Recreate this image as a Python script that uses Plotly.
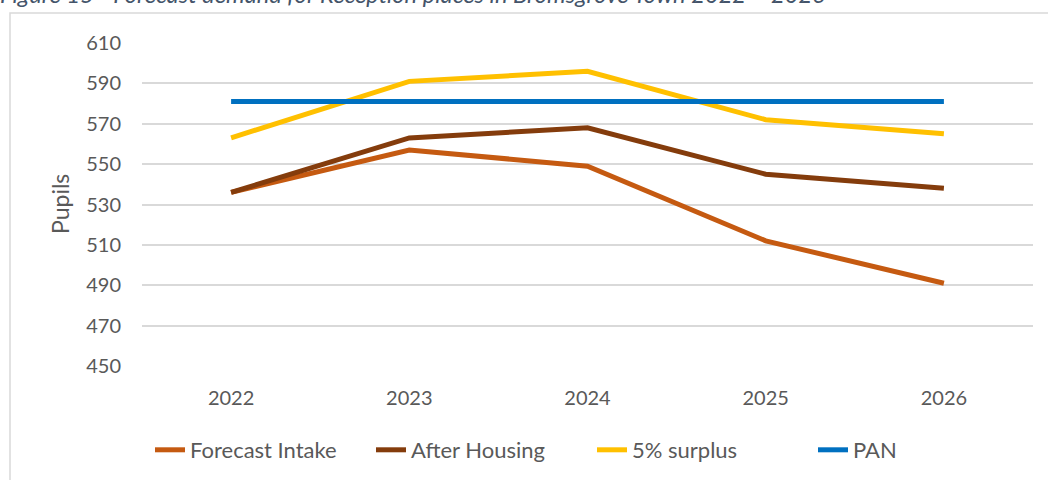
import plotly.graph_objects as go

years = ["2022", "2023", "2024", "2025", "2026"]
forecast_intake = [536, 557, 549, 512, 491]
after_housing = [536, 563, 568, 545, 538]
surplus_5pct = [563, 591, 596, 572, 565]
pan = [581, 581, 581, 581, 581]
y_ticks = [450, 470, 490, 510, 530, 550, 570, 590, 610]

series = [
    ("Forecast Intake", forecast_intake, "#C55A11"),
    ("After Housing", after_housing, "#843C0C"),
    ("5% surplus", surplus_5pct, "#FFC000"),
    ("PAN", pan, "#0070C0"),
]

FONT = "Lato"
TXT = "#595959"

fig = go.Figure()
for name, vals, col in series:
    fig.add_trace(go.Scatter(
        x=years, y=vals, name=name, mode="lines",
        line=dict(color=col, width=5),
    ))

W, H = 1048, 480
L = 142
T = 43
R = W - 1033
B = H - 366
pw, ph = W - L - R, H - T - B

def px2x(px):
    return (px - L) / pw

def px2y(py):
    return (H - B - py) / ph

fig.update_layout(
    width=W, height=H,
    margin=dict(l=L, r=R, t=T, b=B, autoexpand=False),
    paper_bgcolor="white", plot_bgcolor="white",
    font=dict(family=FONT, color=TXT, size=20),
    showlegend=True,
    legend=dict(orientation="h", x=px2x(150), xanchor="left",
                y=px2y(450), yanchor="middle",
                font=dict(size=22, color=TXT), itemwidth=30,
                entrywidth=176, entrywidthmode="pixels",
                tracegroupgap=0),
    xaxis=dict(type="category", range=[-0.5, 4.5], showgrid=False,
               showline=False, zeroline=False, ticks="", automargin=False,
               ticklabelstandoff=18, tickfont=dict(size=20, color=TXT)),
    yaxis=dict(range=[450, 610], tickvals=y_ticks, showgrid=True,
               gridcolor="#D9D9D9", gridwidth=2, zeroline=False,
               showline=False, ticks="", ticklabelstandoff=20, automargin=False,
               tickfont=dict(size=20, color=TXT)),
    shapes=[dict(type="rect", xref="paper", yref="paper",
                 x0=px2x(10), x1=px2x(1100), y0=px2y(520), y1=px2y(13),
                 line=dict(color="#D9D9D9", width=1.5), fillcolor="rgba(0,0,0,0)",
                 layer="below")],
    annotations=[
        dict(text="Pupils", xref="paper", yref="paper", x=px2x(60), y=px2y(204),
             xanchor="center", yanchor="middle", textangle=-90, showarrow=False,
             font=dict(size=23, color=TXT)),
        dict(text="<i>Figure 15 - Forecast demand for Reception places in Bromsgrove Town 2022 – 2026</i>",
             xref="paper", yref="paper", x=px2x(-2), y=px2y(10), xanchor="left",
             yanchor="bottom", showarrow=False,
             font=dict(size=23.7, color="#44546A")),
    ],
)

# remove the default 8px page margin so the figure fills the window exactly
fig.write_html("out.html", config={"displayModeBar": False},
               post_script="document.body.style.margin='0';")
